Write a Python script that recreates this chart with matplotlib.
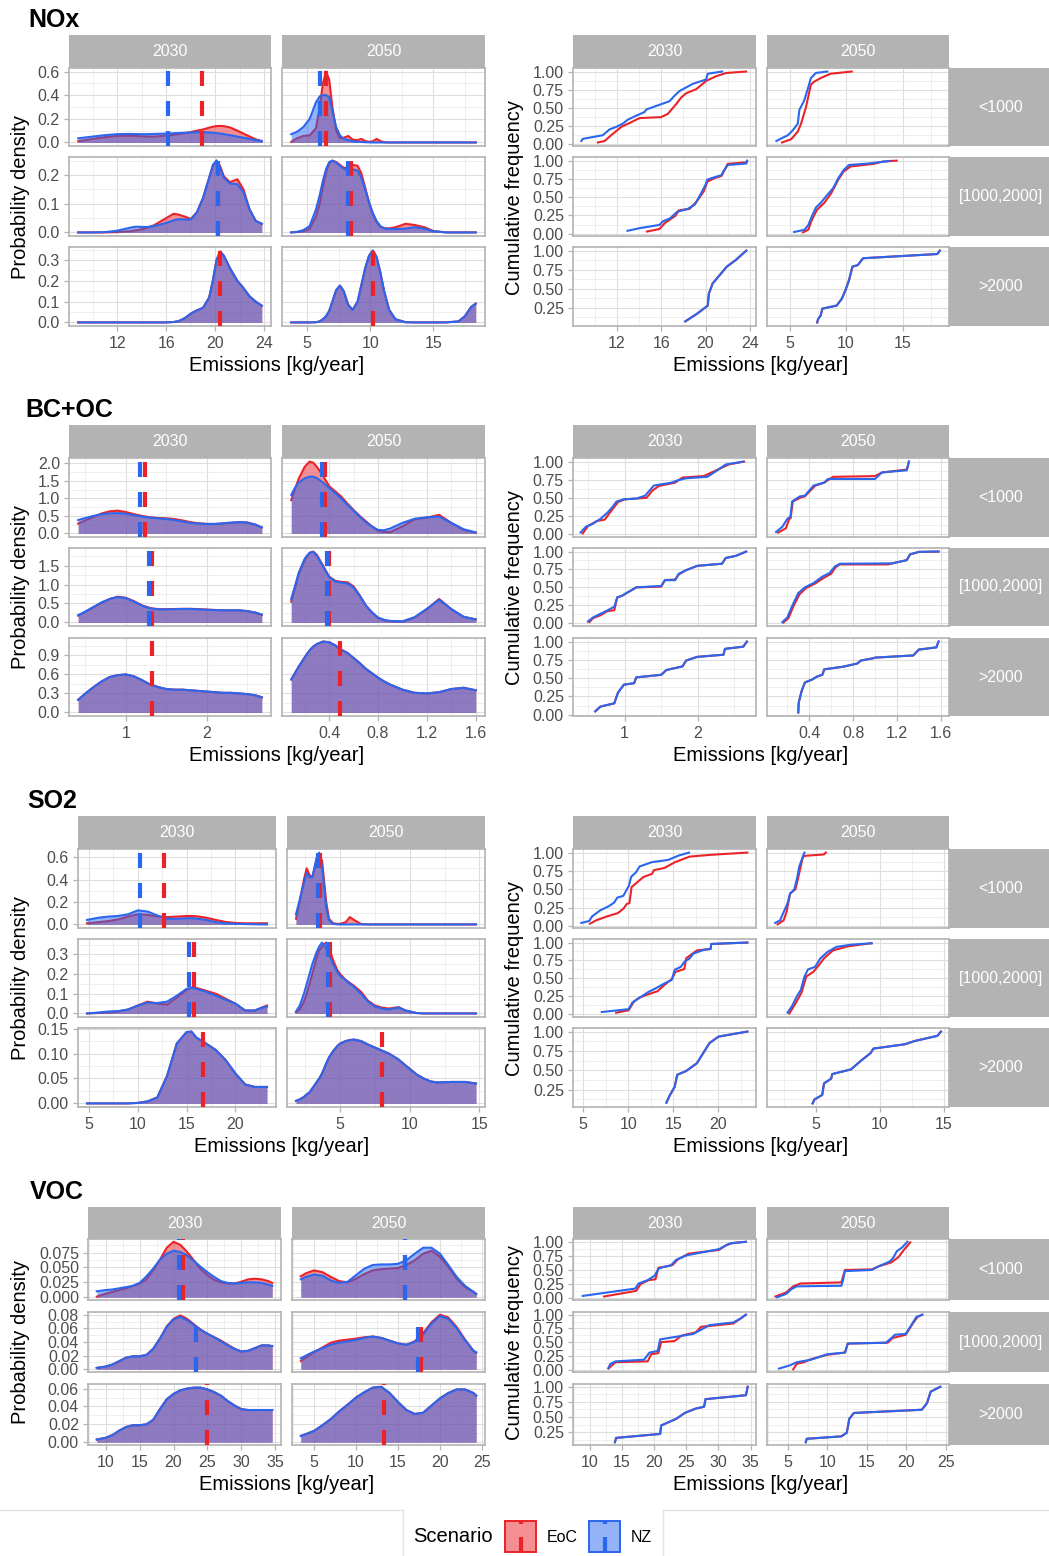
import matplotlib
matplotlib.use("Agg")
import matplotlib.pyplot as plt
from matplotlib.ticker import MultipleLocator, FormatStrFormatter, FuncFormatter
from matplotlib.patches import Rectangle

plt.rcParams['font.family'] = ['Liberation Sans', 'DejaVu Sans']

RED = '#EB2329'
BLUE = '#2A66EE'
GREY = '#B3B3B3'
ROW_LABELS = ['<1000', '[1000,2000]', '>2000']
YEARS = ['2030', '2050']

# ---------------- NOx ----------------
NOX_GRID_2030 = [8.8, 10, 11, 12, 13, 13.5, 14, 14.5, 15, 16, 16.6, 17, 17.5, 18, 18.5, 19, 19.5, 19.8,
                 20.1, 20.4, 20.7, 21.2, 21.8, 22.3, 22.8, 23.3, 23.8]
NOX_GRID_2050 = [3.74, 4.2, 4.7, 5.2, 5.7, 6.0, 6.25, 6.5, 6.75, 7.0, 7.3, 7.6, 7.9, 8.25, 8.6, 9.0, 9.3,
                 9.6, 9.9, 10.2, 10.5, 10.8, 11.1, 11.5, 12.0, 12.8, 13.5, 14.3, 15.0, 16.0, 17.0, 17.5,
                 18.0, 18.36]
NOX_DENS_EOC_2030 = [
    [0.01, 0.03, 0.045, 0.055, 0.057, 0.055, 0.052, 0.05, 0.05, 0.058, 0.065, 0.07, 0.078, 0.088, 0.1,
     0.11, 0.125, 0.133, 0.138, 0.14, 0.138, 0.127, 0.1, 0.075, 0.05, 0.027, 0.01],
    [0, 0, 0, 0.001, 0.004, 0.007, 0.011, 0.017, 0.025, 0.05, 0.065, 0.062, 0.055, 0.047, 0.07, 0.12,
     0.19, 0.23, 0.25, 0.23, 0.195, 0.175, 0.185, 0.15, 0.08, 0.04, 0.03],
    [0, 0, 0, 0, 0, 0, 0, 0, 0, 0, 0.002, 0.006, 0.02, 0.042, 0.058, 0.07, 0.12, 0.2, 0.3, 0.34, 0.32,
     0.26, 0.2, 0.165, 0.125, 0.1, 0.08],
]
NOX_DENS_NZ_2030 = [
    [0.035, 0.05, 0.062, 0.07, 0.072, 0.071, 0.07, 0.07, 0.072, 0.075, 0.078, 0.08, 0.082, 0.085, 0.086,
     0.086, 0.084, 0.082, 0.079, 0.075, 0.07, 0.062, 0.05, 0.04, 0.03, 0.02, 0.013],
    [0, 0, 0.001, 0.006, 0.016, 0.02, 0.019, 0.019, 0.022, 0.033, 0.042, 0.046, 0.045, 0.045, 0.07, 0.12,
     0.19, 0.235, 0.25, 0.225, 0.19, 0.17, 0.168, 0.14, 0.08, 0.04, 0.03],
    NOX_DENS_EOC_2030[2],
]
NOX_DENS_EOC_2050 = [
    [0.005, 0.035, 0.055, 0.06, 0.12, 0.3, 0.5, 0.6, 0.53, 0.3, 0.1, 0.035, 0.04, 0.055, 0.025, 0.02,
     0.03, 0.012, 0.005, 0.01, 0.03, 0.012, 0.002, 0, 0, 0, 0, 0, 0, 0, 0, 0, 0, 0],
    [0, 0.001, 0.004, 0.012, 0.055, 0.1, 0.16, 0.21, 0.24, 0.25, 0.245, 0.235, 0.225, 0.225, 0.235,
     0.232, 0.205, 0.155, 0.105, 0.065, 0.035, 0.02, 0.015, 0.014, 0.018, 0.03, 0.026, 0.018, 0.005, 0,
     0, 0, 0, 0],
    [0, 0, 0, 0, 0.001, 0.005, 0.015, 0.03, 0.055, 0.1, 0.155, 0.177, 0.15, 0.085, 0.06, 0.1, 0.18, 0.26,
     0.32, 0.345, 0.315, 0.24, 0.15, 0.06, 0.015, 0.001, 0, 0, 0, 0, 0.005, 0.03, 0.075, 0.09],
]
NOX_DENS_NZ_2050 = [
    [0.07, 0.09, 0.13, 0.2, 0.34, 0.39, 0.4, 0.4, 0.385, 0.27, 0.13, 0.06, 0.03, 0.02, 0.012, 0.006,
     0.004, 0.002, 0.001, 0, 0, 0, 0, 0, 0, 0, 0, 0, 0, 0, 0, 0, 0, 0],
    [0, 0.002, 0.008, 0.022, 0.08, 0.13, 0.18, 0.22, 0.245, 0.25, 0.243, 0.232, 0.222, 0.218, 0.22,
     0.215, 0.19, 0.15, 0.105, 0.068, 0.04, 0.022, 0.014, 0.012, 0.012, 0.013, 0.018, 0.013, 0.004, 0,
     0, 0, 0, 0],
    NOX_DENS_EOC_2050[2],
]
NOX_MED_EOC_2030 = [18.88, 20.25, 20.42]
NOX_MED_NZ_2030 = [16.16, 20.2, None]
NOX_MED_EOC_2050 = [6.47, 8.44, 10.22]
NOX_MED_NZ_2050 = [6.02, 8.2, None]
NOX_CDF_EOC_2030 = [
    [(10.29, 0.02), (10.9, 0.04), (11.34, 0.1), (12.4, 0.235), (13.3, 0.3), (14.05, 0.357), (16.0, 0.37),
     (16.6, 0.415), (17.35, 0.55), (17.8, 0.64), (18.25, 0.70), (19.15, 0.755), (20.05, 0.87),
     (20.95, 0.935), (21.86, 0.98), (23.66, 1.0)],
    [(14.72, 0.03), (15.84, 0.064), (16.32, 0.145), (17.28, 0.245), (17.6, 0.32), (18.56, 0.34),
     (19.2, 0.44), (19.84, 0.58), (20.16, 0.71), (20.8, 0.76), (21.44, 0.79), (22.0, 0.955),
     (23.68, 0.977), (23.74, 0.99)],
    [(18.18, 0.074), (19.2, 0.17), (19.84, 0.24), (20.2, 0.28), (20.3, 0.435), (20.64, 0.57),
     (21.28, 0.68), (21.92, 0.79), (22.72, 0.876), (23.68, 1.0)],
]
NOX_CDF_NZ_2030 = [
    [(8.8, 0.04), (8.94, 0.07), (10.74, 0.12), (11.34, 0.2), (11.95, 0.235), (12.54, 0.28), (12.99, 0.335),
     (13.75, 0.39), (14.5, 0.44), (14.65, 0.475), (16.75, 0.59), (17.2, 0.665), (17.65, 0.73),
     (18.85, 0.83), (20.05, 0.89), (20.2, 0.97), (21.5, 1.0)],
    [(12.96, 0.04), (14.08, 0.077), (15.84, 0.12), (16.16, 0.17), (16.8, 0.21), (17.44, 0.3), (18.4, 0.34),
     (19.04, 0.4), (19.52, 0.53), (20.0, 0.67), (20.16, 0.74), (20.96, 0.78), (21.44, 0.8), (21.6, 0.85),
     (22.0, 0.94), (23.68, 0.96), (23.74, 1.0)],
    NOX_CDF_EOC_2030[2],
]
NOX_CDF_EOC_2050 = [
    [(4.34, 0.02), (5.15, 0.065), (5.73, 0.17), (6.02, 0.28), (6.45, 0.506), (6.89, 0.82), (7.17, 0.86),
     (7.76, 0.91), (8.63, 0.97), (10.5, 1.0)],
    [(6.19, 0.018), (6.66, 0.055), (6.97, 0.19), (7.44, 0.33), (8.06, 0.42), (8.69, 0.555), (9.31, 0.74),
     (9.78, 0.85), (10.4, 0.92), (12.44, 0.955), (13.22, 0.986), (14.47, 1.0)],
    [(7.44, 0.06), (7.53, 0.105), (7.75, 0.15), (7.9, 0.24), (9.16, 0.28), (9.62, 0.37), (9.94, 0.48),
     (10.25, 0.61), (10.56, 0.79), (11.03, 0.81), (11.5, 0.9), (18.06, 0.955), (18.28, 1.0)],
]
NOX_CDF_NZ_2050 = [
    [(3.84, 0.04), (4.28, 0.077), (4.86, 0.12), (5.3, 0.19), (5.73, 0.28), (5.87, 0.47), (6.3, 0.6),
     (6.6, 0.755), (6.89, 0.91), (7.32, 0.98), (8.34, 1.0)],
    [(5.4, 0.023), (6.34, 0.055), (6.66, 0.12), (6.97, 0.236), (7.34, 0.36), (7.75, 0.42), (8.22, 0.51),
     (8.84, 0.62), (9.31, 0.76), (9.78, 0.87), (10.25, 0.94), (11.97, 0.96), (13.84, 0.995)],
    NOX_CDF_EOC_2050[2],
]

# ---------------- BC+OC ----------------
BC_GRID_2030 = [0.41, 0.5, 0.6, 0.7, 0.8, 0.9, 1.0, 1.1, 1.2, 1.3, 1.4, 1.5, 1.6, 1.7, 1.8, 1.9, 2.0,
                2.1, 2.2, 2.3, 2.4, 2.5, 2.6, 2.68]
BC_GRID_2050 = [0.09, 0.12, 0.15, 0.2, 0.24, 0.27, 0.3, 0.35, 0.4, 0.45, 0.5, 0.55, 0.6, 0.65, 0.7,
                0.75, 0.8, 0.85, 0.9, 1.0, 1.1, 1.2, 1.3, 1.4, 1.5, 1.6]
BC_DENS_EOC_2030 = [
    [0.28, 0.37, 0.47, 0.57, 0.63, 0.65, 0.61, 0.55, 0.5, 0.46, 0.44, 0.43, 0.41, 0.37, 0.32, 0.29, 0.27,
     0.27, 0.28, 0.3, 0.32, 0.31, 0.25, 0.17],
    [0.18, 0.28, 0.4, 0.52, 0.62, 0.68, 0.65, 0.56, 0.45, 0.38, 0.35, 0.35, 0.355, 0.36, 0.36, 0.35,
     0.34, 0.33, 0.32, 0.32, 0.32, 0.3, 0.26, 0.2],
    [0.2, 0.3, 0.4, 0.49, 0.56, 0.59, 0.6, 0.57, 0.51, 0.44, 0.4, 0.37, 0.36, 0.36, 0.35, 0.34, 0.33,
     0.32, 0.31, 0.31, 0.3, 0.29, 0.27, 0.24],
]
BC_DENS_NZ_2030 = [
    [0.38, 0.44, 0.5, 0.55, 0.57, 0.58, 0.56, 0.52, 0.48, 0.45, 0.43, 0.41, 0.38, 0.34, 0.3, 0.28, 0.27,
     0.27, 0.29, 0.31, 0.32, 0.31, 0.25, 0.17],
    [0.19, 0.29, 0.41, 0.53, 0.62, 0.67, 0.64, 0.55, 0.44, 0.37, 0.345, 0.345, 0.35, 0.355, 0.355, 0.345,
     0.335, 0.325, 0.32, 0.32, 0.32, 0.3, 0.26, 0.21],
    BC_DENS_EOC_2030[2],
]
BC_DENS_EOC_2050 = [
    [0.95, 1.25, 1.55, 1.9, 2.05, 2.02, 1.9, 1.65, 1.35, 1.2, 1.05, 0.85, 0.67, 0.5, 0.35, 0.2, 0.07,
     0.04, 0.04, 0.2, 0.4, 0.45, 0.53, 0.3, 0.1, 0.02],
    [0.55, 0.9, 1.25, 1.65, 1.83, 1.87, 1.78, 1.5, 1.21, 1.1, 1.07, 1.06, 0.95, 0.72, 0.45, 0.26, 0.12,
     0.06, 0.03, 0.02, 0.13, 0.35, 0.62, 0.35, 0.15, 0.08],
    [0.52, 0.62, 0.72, 0.87, 0.98, 1.04, 1.08, 1.12, 1.11, 1.06, 0.99, 0.94, 0.86, 0.78, 0.69, 0.62,
     0.55, 0.49, 0.44, 0.36, 0.31, 0.3, 0.32, 0.37, 0.39, 0.35],
]
BC_DENS_NZ_2050 = [
    [1.1, 1.3, 1.45, 1.57, 1.62, 1.62, 1.58, 1.45, 1.3, 1.15, 1.0, 0.82, 0.65, 0.48, 0.32, 0.2, 0.1,
     0.09, 0.14, 0.3, 0.42, 0.46, 0.48, 0.3, 0.12, 0.03],
    [0.62, 0.95, 1.3, 1.68, 1.84, 1.86, 1.76, 1.48, 1.2, 1.08, 1.05, 1.03, 0.92, 0.7, 0.45, 0.27, 0.13,
     0.07, 0.04, 0.03, 0.14, 0.36, 0.6, 0.35, 0.15, 0.08],
    BC_DENS_EOC_2050[2],
]
BC_MED_EOC_2030 = [1.24, 1.32, 1.32]
BC_MED_NZ_2030 = [1.17, 1.28, None]
BC_MED_EOC_2050 = [0.365, 0.395, 0.487]
BC_MED_NZ_2050 = [0.343, 0.38, None]
BC_CDF_EOC_2030 = [
    [(0.43, 0.01), (0.5, 0.11), (0.62, 0.18), (0.73, 0.2), (0.81, 0.31), (0.91, 0.44), (1.0, 0.48),
     (1.3, 0.5), (1.38, 0.6), (1.47, 0.665), (1.69, 0.71), (1.79, 0.78), (2.08, 0.8), (2.23, 0.87),
     (2.42, 0.96), (2.63, 1.0)],
    [(0.52, 0.015), (0.57, 0.07), (0.67, 0.11), (0.77, 0.17), (0.86, 0.18), (0.9, 0.36), (0.96, 0.38),
     (1.11, 0.47), (1.16, 0.5), (1.5, 0.51), (1.55, 0.6), (1.69, 0.61), (1.74, 0.68), (1.84, 0.74),
     (1.99, 0.8), (2.33, 0.83), (2.38, 0.91), (2.52, 0.94), (2.66, 1.0)],
    [(0.6, 0.045), (0.67, 0.11), (0.86, 0.155), (0.91, 0.3), (0.99, 0.41), (1.13, 0.43), (1.16, 0.51),
     (1.5, 0.545), (1.57, 0.61), (1.79, 0.66), (1.84, 0.74), (1.99, 0.79), (2.35, 0.82), (2.37, 0.9),
     (2.62, 0.93), (2.67, 1.0)],
]
BC_CDF_NZ_2030 = [
    [(0.4, 0.023), (0.47, 0.1), (0.57, 0.145), (0.67, 0.21), (0.77, 0.3), (0.84, 0.38), (0.89, 0.45),
     (0.99, 0.48), (1.16, 0.49), (1.28, 0.53), (1.4, 0.67), (1.64, 0.71), (1.72, 0.74), (1.84, 0.77),
     (2.13, 0.79), (2.28, 0.89), (2.38, 0.96), (2.62, 1.0)],
    [(0.5, 0.023), (0.57, 0.08), (0.67, 0.13), (0.77, 0.18), (0.86, 0.23), (0.9, 0.36), (0.96, 0.38),
     (1.11, 0.47), (1.16, 0.5), (1.5, 0.52), (1.55, 0.6), (1.69, 0.6), (1.74, 0.69), (1.84, 0.74),
     (1.99, 0.8), (2.33, 0.83), (2.38, 0.91), (2.52, 0.94), (2.66, 1.0)],
    BC_CDF_EOC_2030[2],
]
BC_CDF_EOC_2050 = [
    [(0.116, 0.02), (0.186, 0.08), (0.218, 0.21), (0.23, 0.22), (0.25, 0.45), (0.33, 0.51), (0.36, 0.52),
     (0.41, 0.6), (0.457, 0.67), (0.537, 0.71), (0.617, 0.79), (1.0, 0.8), (1.063, 0.85), (1.29, 0.89),
     (1.31, 1.0)],
    [(0.165, 0.01), (0.21, 0.07), (0.26, 0.25), (0.31, 0.4), (0.37, 0.49), (0.45, 0.55), (0.53, 0.63),
     (0.6, 0.69), (0.64, 0.78), (0.68, 0.82), (1.12, 0.82), (1.17, 0.84), (1.29, 0.88), (1.32, 0.96),
     (1.4, 0.995), (1.58, 1.0)],
    [(0.3, 0.03), (0.304, 0.165), (0.33, 0.32), (0.36, 0.44), (0.426, 0.48), (0.47, 0.52), (0.52, 0.545),
     (0.537, 0.62), (0.71, 0.656), (0.84, 0.7), (0.87, 0.74), (0.98, 0.77), (1.0, 0.78), (1.35, 0.81),
     (1.4, 0.89), (1.56, 0.92), (1.58, 1.0)],
]
BC_CDF_NZ_2050 = [
    [(0.097, 0.03), (0.154, 0.1), (0.2, 0.21), (0.228, 0.24), (0.244, 0.45), (0.314, 0.52), (0.36, 0.53),
     (0.4, 0.6), (0.44, 0.67), (0.537, 0.71), (0.57, 0.76), (1.0, 0.76), (1.063, 0.85), (1.29, 0.88),
     (1.31, 1.0)],
    [(0.154, 0.014), (0.2, 0.08), (0.25, 0.26), (0.3, 0.42), (0.36, 0.5), (0.44, 0.56), (0.52, 0.65),
     (0.585, 0.7), (0.633, 0.79), (0.68, 0.83), (1.16, 0.835), (1.29, 0.88), (1.32, 0.96), (1.4, 0.995),
     (1.58, 1.0)],
    BC_CDF_EOC_2050[2],
]

# ---------------- SO2 ----------------
SO2_GRID_2030 = [4.8, 6, 7, 8, 9, 10, 11, 12, 13, 14, 15, 15.5, 16, 17, 18, 19, 20, 21, 22, 22.8, 23.24]
SO2_GRID_2050 = [1.83, 2.1, 2.4, 2.6, 2.8, 3.0, 3.3, 3.5, 3.7, 4.0, 4.2, 4.5, 4.8, 5.0, 5.4, 5.7, 6.0,
                 6.5, 7.0, 7.5, 8.0, 8.5, 9.2, 9.7, 10.5, 11.0, 11.5, 12.0, 13.0, 14.0, 14.76]
SO2_DENS_EOC_2030 = [
    [0.01, 0.02, 0.03, 0.045, 0.07, 0.09, 0.085, 0.07, 0.065, 0.07, 0.075, 0.075, 0.073, 0.06, 0.04,
     0.022, 0.013, 0.01, 0.01, 0.01, 0.01],
    [0, 0.002, 0.005, 0.01, 0.02, 0.04, 0.06, 0.05, 0.045, 0.08, 0.12, 0.13, 0.13, 0.115, 0.1, 0.075,
     0.05, 0.015, 0.015, 0.032, 0.04],
    [0, 0, 0, 0, 0, 0.001, 0.004, 0.012, 0.055, 0.12, 0.143, 0.144, 0.132, 0.12, 0.107, 0.087, 0.06,
     0.038, 0.033, 0.033, 0.033],
]
SO2_DENS_NZ_2030 = [
    [0.04, 0.06, 0.07, 0.075, 0.09, 0.125, 0.115, 0.08, 0.05, 0.05, 0.055, 0.055, 0.052, 0.04, 0.02,
     0.01, 0.005, 0.003, 0.001, 0, 0],
    [0, 0.005, 0.01, 0.012, 0.02, 0.04, 0.055, 0.053, 0.06, 0.09, 0.125, 0.13, 0.125, 0.11, 0.09, 0.07,
     0.05, 0.015, 0.015, 0.03, 0.035],
    SO2_DENS_EOC_2030[2],
]
SO2_DENS_EOC_2050 = [
    [0.05, 0.21, 0.4, 0.5, 0.44, 0.42, 0.56, 0.6, 0.57, 0.2, 0.05, 0.01, 0.005, 0.005, 0.02, 0.065, 0.04,
     0.003, 0, 0, 0, 0, 0, 0, 0, 0, 0, 0, 0, 0, 0],
    [0.005, 0.02, 0.06, 0.1, 0.15, 0.2, 0.28, 0.32, 0.34, 0.36, 0.33, 0.27, 0.22, 0.2, 0.17, 0.155,
     0.14, 0.11, 0.065, 0.04, 0.03, 0.025, 0.032, 0.015, 0.002, 0, 0, 0, 0, 0, 0],
    [0.005, 0.008, 0.013, 0.018, 0.022, 0.03, 0.042, 0.05, 0.06, 0.08, 0.092, 0.105, 0.115, 0.12, 0.125,
     0.127, 0.128, 0.125, 0.118, 0.112, 0.106, 0.1, 0.088, 0.076, 0.058, 0.05, 0.044, 0.042, 0.043,
     0.043, 0.04],
]
SO2_DENS_NZ_2050 = [
    [0.09, 0.22, 0.37, 0.46, 0.42, 0.42, 0.59, 0.64, 0.52, 0.15, 0.04, 0.005, 0, 0, 0, 0, 0, 0, 0, 0, 0,
     0, 0, 0, 0, 0, 0, 0, 0, 0, 0],
    [0.01, 0.04, 0.1, 0.15, 0.2, 0.25, 0.31, 0.34, 0.36, 0.33, 0.3, 0.25, 0.21, 0.19, 0.17, 0.15, 0.135,
     0.1, 0.06, 0.035, 0.025, 0.02, 0.03, 0.015, 0.002, 0, 0, 0, 0, 0, 0],
    SO2_DENS_EOC_2050[2],
]
SO2_MED_EOC_2030 = [12.64, 15.8, 16.73]
SO2_MED_NZ_2030 = [10.18, 15.23, None]
SO2_MED_EOC_2050 = [3.52, 4.29, 8.02]
SO2_MED_NZ_2050 = [3.4, 4.14, None]
SO2_CDF_EOC_2030 = [
    [(5.76, 0.03), (6.47, 0.077), (7.67, 0.13), (8.86, 0.175), (9.46, 0.235), (9.85, 0.3), (10.13, 0.31),
     (10.37, 0.53), (11.05, 0.6), (11.65, 0.665), (12.64, 0.71), (12.84, 0.76), (14.0, 0.79), (15.2, 0.87),
     (16.8, 0.945), (19.2, 0.97), (23.2, 1.0)],
    [(8.66, 0.02), (10.05, 0.055), (10.65, 0.18), (11.25, 0.23), (12.04, 0.27), (13.24, 0.32),
     (14.03, 0.41), (14.83, 0.49), (15.23, 0.59), (16.22, 0.63), (16.42, 0.78), (17.61, 0.89),
     (19.13, 0.91), (19.2, 0.98), (23.2, 1.0)],
    [(14.23, 0.08), (14.63, 0.18), (15.15, 0.285), (15.43, 0.44), (16.42, 0.49), (17.61, 0.59),
     (18.41, 0.74), (19.0, 0.85), (20.0, 0.935), (23.2, 1.0)],
]
SO2_CDF_NZ_2030 = [
    [(4.8, 0.04), (5.68, 0.067), (6.0, 0.13), (6.87, 0.21), (7.87, 0.27), (8.46, 0.32), (8.78, 0.385),
     (9.46, 0.41), (9.85, 0.5), (10.05, 0.54), (10.33, 0.67), (10.85, 0.73), (11.25, 0.81), (12.64, 0.87),
     (14.43, 0.9), (15.6, 0.96), (16.74, 1.0)],
    [(7.07, 0.03), (10.05, 0.07), (10.45, 0.16), (11.25, 0.23), (12.24, 0.31), (13.04, 0.36), (14.03, 0.43),
     (14.83, 0.48), (15.15, 0.62), (15.82, 0.66), (16.22, 0.73), (16.82, 0.78), (17.21, 0.845),
     (18.41, 0.9), (19.13, 0.91), (19.2, 0.98), (23.2, 1.0)],
    SO2_CDF_EOC_2030[2],
]
SO2_CDF_EOC_2050 = [
    [(2.01, 0.02), (2.49, 0.077), (2.71, 0.19), (2.99, 0.44), (3.41, 0.5), (3.69, 0.71), (3.97, 0.93),
     (4.11, 0.955), (5.64, 0.975), (5.78, 1.0)],
    [(2.93, 0.01), (3.41, 0.15), (3.88, 0.3), (4.25, 0.525), (4.8, 0.59), (5.22, 0.68), (5.64, 0.78),
     (6.34, 0.89), (7.46, 0.945), (8.85, 0.98), (9.36, 0.99)],
    [(4.75, 0.07), (4.89, 0.12), (5.5, 0.18), (5.64, 0.33), (6.2, 0.39), (6.28, 0.45), (7.74, 0.51),
     (8.58, 0.63), (9.27, 0.72), (9.5, 0.78), (11.93, 0.835), (12.77, 0.88), (14.5, 0.945), (14.78, 1.0)],
]
SO2_CDF_NZ_2050 = [
    [(1.82, 0.04), (2.21, 0.077), (2.49, 0.19), (2.77, 0.3), (2.99, 0.44), (3.32, 0.5), (3.55, 0.665),
     (3.69, 0.8), (3.97, 0.94), (4.11, 1.0)],
    [(2.79, 0.023), (3.13, 0.11), (3.49, 0.24), (3.83, 0.34), (4.11, 0.525), (4.39, 0.625), (4.94, 0.66),
     (5.36, 0.78), (5.92, 0.87), (6.62, 0.94), (7.74, 0.97), (9.36, 0.99)],
    SO2_CDF_EOC_2050[2],
]

# ---------------- VOC ----------------
VOC_GRID_2030 = [8.68, 10, 11, 12, 13, 14, 15, 16, 17, 18, 19, 20, 21, 22, 23, 24, 25, 26, 27, 28, 29,
                 30, 31, 32, 33, 34, 34.56]
VOC_GRID_2050 = [3.41, 4, 5, 6, 7, 8, 9, 10, 11, 12, 13, 14, 15, 16, 17, 18, 19, 20, 21, 22, 23, 24,
                 24.33]
VOC_DENS_EOC_2030 = [
    [0.001, 0.006, 0.009, 0.012, 0.015, 0.019, 0.023, 0.03, 0.045, 0.063, 0.083, 0.093, 0.088, 0.076,
     0.062, 0.047, 0.037, 0.029, 0.025, 0.023, 0.023, 0.026, 0.03, 0.031, 0.03, 0.027, 0.024],
    [0.002, 0.004, 0.007, 0.012, 0.017, 0.019, 0.019, 0.021, 0.03, 0.045, 0.063, 0.074, 0.079, 0.074,
     0.066, 0.058, 0.052, 0.047, 0.042, 0.036, 0.03, 0.026, 0.027, 0.031, 0.035, 0.035, 0.034],
    [0.003, 0.005, 0.008, 0.013, 0.017, 0.019, 0.019, 0.02, 0.025, 0.037, 0.048, 0.054, 0.058, 0.06,
     0.061, 0.061, 0.059, 0.056, 0.052, 0.046, 0.041, 0.037, 0.036, 0.036, 0.036, 0.036, 0.036],
]
VOC_DENS_NZ_2030 = [
    [0.01, 0.012, 0.013, 0.015, 0.017, 0.019, 0.024, 0.035, 0.048, 0.063, 0.073, 0.078, 0.076, 0.07,
     0.061, 0.051, 0.042, 0.034, 0.027, 0.024, 0.023, 0.024, 0.025, 0.025, 0.024, 0.021, 0.019],
    [0.002, 0.004, 0.007, 0.012, 0.017, 0.019, 0.019, 0.021, 0.03, 0.045, 0.062, 0.073, 0.077, 0.072,
     0.065, 0.058, 0.052, 0.047, 0.041, 0.035, 0.03, 0.026, 0.027, 0.031, 0.035, 0.035, 0.034],
    VOC_DENS_EOC_2030[2],
]
VOC_DENS_EOC_2050 = [
    [0.035, 0.04, 0.045, 0.042, 0.034, 0.027, 0.025, 0.031, 0.039, 0.045, 0.047, 0.048, 0.049, 0.054,
     0.062, 0.073, 0.078, 0.068, 0.051, 0.031, 0.017, 0.009, 0.006],
    [0.012, 0.017, 0.025, 0.032, 0.039, 0.042, 0.0435, 0.045, 0.047, 0.048, 0.046, 0.042, 0.038, 0.036,
     0.041, 0.053, 0.069, 0.08, 0.076, 0.062, 0.0435, 0.027, 0.024],
    [0.007, 0.009, 0.0127, 0.019, 0.026, 0.0345, 0.042, 0.05, 0.056, 0.061, 0.062, 0.055, 0.045, 0.036,
     0.0316, 0.033, 0.041, 0.049, 0.055, 0.059, 0.059, 0.055, 0.052],
]
VOC_DENS_NZ_2050 = [
    [0.03, 0.034, 0.038, 0.036, 0.028, 0.024, 0.026, 0.037, 0.048, 0.054, 0.055, 0.055, 0.056, 0.062,
     0.073, 0.083, 0.083, 0.073, 0.054, 0.034, 0.019, 0.009, 0.005],
    [0.016, 0.02, 0.026, 0.031, 0.036, 0.039, 0.041, 0.043, 0.046, 0.048, 0.046, 0.042, 0.038, 0.036,
     0.04, 0.051, 0.067, 0.078, 0.074, 0.06, 0.0426, 0.027, 0.025],
    VOC_DENS_EOC_2050[2],
]
VOC_MED_EOC_2030 = [21.38, 23.28, 24.99]
VOC_MED_NZ_2030 = [20.84, 23.28, None]
VOC_MED_EOC_2050 = [15.79, 17.78, 13.33]
VOC_MED_NZ_2050 = [15.79, 17.38, None]
VOC_CDF_EOC_2030 = [
    [(12.22, 0.03), (17.22, 0.13), (17.9, 0.25), (19.17, 0.32), (20.22, 0.335), (20.67, 0.54),
     (21.78, 0.56), (22.9, 0.59), (23.72, 0.69), (25.4, 0.79), (30.1, 0.855), (31.2, 0.94), (32.3, 0.98),
     (34.28, 1.0)],
    [(12.9, 0.018), (14.0, 0.135), (19.0, 0.15), (19.56, 0.28), (20.67, 0.3), (21.1, 0.5), (23.17, 0.52),
     (24.3, 0.62), (26.5, 0.68), (27.3, 0.78), (32.33, 0.84), (33.44, 0.93), (34.28, 1.0)],
    [(13.9, 0.083), (14.1, 0.155), (20.94, 0.22), (21.1, 0.36), (23.44, 0.47), (24.83, 0.57), (26.5, 0.64),
     (27.78, 0.67), (28.0, 0.795), (34.28, 0.86), (34.56, 1.0)],
]
VOC_CDF_NZ_2030 = [
    [(8.9, 0.04), (17.06, 0.17), (17.6, 0.26), (19.0, 0.32), (20.1, 0.4), (20.67, 0.52), (21.5, 0.555),
     (22.6, 0.58), (23.44, 0.68), (25.1, 0.76), (30.1, 0.87), (31.78, 0.97), (34.28, 1.0)],
    [(12.9, 0.03), (13.2, 0.105), (14.0, 0.15), (18.44, 0.18), (19.28, 0.31), (20.56, 0.34), (20.94, 0.55),
     (26.1, 0.65), (27.2, 0.72), (28.6, 0.81), (32.33, 0.86), (33.44, 0.93), (34.28, 1.0)],
    VOC_CDF_EOC_2030[2],
]
VOC_CDF_EOC_2050 = [
    [(3.42, 0.03), (4.77, 0.1), (5.68, 0.21), (6.58, 0.26), (11.77, 0.28), (12.22, 0.5), (15.6, 0.51),
     (16.5, 0.566), (18.1, 0.635), (19.0, 0.73), (19.67, 0.855), (20.48, 0.99)],
    [(5.68, 0.006), (6.13, 0.105), (7.03, 0.135), (7.93, 0.19), (9.97, 0.27), (12.22, 0.31), (12.58, 0.475),
     (17.64, 0.49), (18.23, 0.575), (19.9, 0.635), (20.8, 0.84), (21.4, 0.96), (22.0, 1.0)],
    [(7.26, 0.083), (7.39, 0.14), (11.77, 0.18), (12.45, 0.24), (12.77, 0.47), (13.35, 0.567),
     (21.93, 0.62), (22.6, 0.73), (23.06, 0.92), (24.28, 1.0)],
]
VOC_CDF_NZ_2050 = [
    [(3.65, 0.017), (4.77, 0.075), (5.45, 0.16), (6.13, 0.21), (11.77, 0.22), (12.0, 0.335), (12.22, 0.48),
     (15.6, 0.5), (16.5, 0.566), (17.87, 0.65), (18.3, 0.71), (18.77, 0.83), (19.45, 0.9), (20.12, 1.0)],
    [(3.87, 0.018), (5.23, 0.076), (6.13, 0.135), (7.93, 0.18), (9.97, 0.28), (12.22, 0.31),
     (12.58, 0.475), (17.4, 0.49), (18.1, 0.575), (18.54, 0.635), (19.9, 0.65), (20.48, 0.78),
     (21.25, 0.96), (22.0, 1.0)],
    VOC_CDF_EOC_2050[2],
]

# blocks: data + page layout (pixel boxes on a 1049 x 1556 canvas)
BLOCKS = [
    dict(name='NOx', grids=(NOX_GRID_2030, NOX_GRID_2050),
         d_eoc=(NOX_DENS_EOC_2030, NOX_DENS_EOC_2050), d_nz=(NOX_DENS_NZ_2030, NOX_DENS_NZ_2050),
         m_eoc=(NOX_MED_EOC_2030, NOX_MED_EOC_2050), m_nz=(NOX_MED_NZ_2030, NOX_MED_NZ_2050),
         c_eoc=(NOX_CDF_EOC_2030, NOX_CDF_EOC_2050), c_nz=(NOX_CDF_NZ_2030, NOX_CDF_NZ_2050),
         xstep=(4, 5), ystep=(0.2, 0.1, 0.1), ydec=(1, 1, 1),
         title=(28, 20), strip=(35, 68), rows=[(68, 146), (157, 236), (247, 326)],
         left=[(69, 271), (282, 485)]),
    dict(name='BC+OC', grids=(BC_GRID_2030, BC_GRID_2050),
         d_eoc=(BC_DENS_EOC_2030, BC_DENS_EOC_2050), d_nz=(BC_DENS_NZ_2030, BC_DENS_NZ_2050),
         m_eoc=(BC_MED_EOC_2030, BC_MED_EOC_2050), m_nz=(BC_MED_NZ_2030, BC_MED_NZ_2050),
         c_eoc=(BC_CDF_EOC_2030, BC_CDF_EOC_2050), c_nz=(BC_CDF_NZ_2030, BC_CDF_NZ_2050),
         xstep=(1, 0.4), ystep=(0.5, 0.5, 0.3), ydec=(1, 1, 1),
         title=(25, 410), strip=(425, 458), rows=[(458, 537), (548, 626), (638, 716)],
         left=[(69, 271), (282, 485)]),
    dict(name='SO2', grids=(SO2_GRID_2030, SO2_GRID_2050),
         d_eoc=(SO2_DENS_EOC_2030, SO2_DENS_EOC_2050), d_nz=(SO2_DENS_NZ_2030, SO2_DENS_NZ_2050),
         m_eoc=(SO2_MED_EOC_2030, SO2_MED_EOC_2050), m_nz=(SO2_MED_NZ_2030, SO2_MED_NZ_2050),
         c_eoc=(SO2_CDF_EOC_2030, SO2_CDF_EOC_2050), c_nz=(SO2_CDF_NZ_2030, SO2_CDF_NZ_2050),
         xstep=(5, 5), ystep=(0.2, 0.1, 0.05), ydec=(1, 1, 2),
         title=(27, 801), strip=(816, 849), rows=[(849, 928), (939, 1017), (1028, 1107)],
         left=[(78, 276), (287, 485)]),
    dict(name='VOC', grids=(VOC_GRID_2030, VOC_GRID_2050),
         d_eoc=(VOC_DENS_EOC_2030, VOC_DENS_EOC_2050), d_nz=(VOC_DENS_NZ_2030, VOC_DENS_NZ_2050),
         m_eoc=(VOC_MED_EOC_2030, VOC_MED_EOC_2050), m_nz=(VOC_MED_NZ_2030, VOC_MED_NZ_2050),
         c_eoc=(VOC_CDF_EOC_2030, VOC_CDF_EOC_2050), c_nz=(VOC_CDF_NZ_2030, VOC_CDF_NZ_2050),
         xstep=(5, 5), ystep=(0.025, 0.02, 0.02), ydec=(3, 2, 2),
         title=(30, 1192), strip=(1207, 1239), rows=[(1239, 1300), (1312, 1372), (1384, 1445)],
         left=[(88, 281), (292, 485)]),
]
RIGHT = [(573, 756), (767, 949)]
RSTRIP = (949, 1054)

W, H = 1049, 1556
fig = plt.figure(figsize=(W / 100, H / 100), dpi=100)


def box(x0, y0, x1, y1):
    return [x0 / W, 1 - y1 / H, (x1 - x0) / W, (y1 - y0) / H]


# overlay in pixel coordinates for titles, labels and legend
ov = fig.add_axes([0, 0, 1, 1])
ov.set_xlim(0, W)
ov.set_ylim(H, 0)
ov.axis('off')


def style(ax, xstep, ystep, ydec, show_x, show_y):
    ax.xaxis.set_major_locator(MultipleLocator(xstep))
    ax.xaxis.set_minor_locator(MultipleLocator(xstep / 2))
    ax.yaxis.set_major_locator(MultipleLocator(ystep))
    ax.yaxis.set_minor_locator(MultipleLocator(ystep / 2))
    ax.xaxis.set_major_formatter(FuncFormatter(lambda v, p: f"{round(v, 6):g}"))
    ax.yaxis.set_major_formatter(FormatStrFormatter(f"%.{ydec}f"))
    ax.set_axisbelow(True)
    ax.grid(which='major', color='#DEDEDE', lw=0.8)
    ax.grid(which='minor', color='#E9E9E9', lw=0.5)
    for s in ax.spines.values():
        s.set_color(GREY)
        s.set_linewidth(1.2)
    ax.tick_params(which='minor', length=0)
    ax.tick_params(which='major', length=3.5, width=0.9, color=GREY, labelcolor='#4D4D4D',
                   labelsize=11.5)
    ax.tick_params(axis='x', bottom=show_x, labelbottom=show_x, pad=4)
    ax.tick_params(axis='y', left=show_y, labelleft=show_y, pad=3)


def strip(x0, y0, x1, y1, label, rot=0):
    s = fig.add_axes(box(x0, y0, x1, y1))
    s.set_facecolor(GREY)
    s.set_xticks([])
    s.set_yticks([])
    for sp in s.spines.values():
        sp.set_visible(False)
    s.text(0.5 if rot == 0 else (1001 - x0) / (x1 - x0), 0.5, label, transform=s.transAxes,
           ha='center', va='center', color='white', fontsize=11.5)


for b in BLOCKS:
    rows = b['rows']
    # titles and strips
    ov.text(b['title'][0], b['title'][1], b['name'], fontsize=18, fontweight='bold', ha='left', va='center')
    for c in range(2):
        strip(b['left'][c][0], b['strip'][0], b['left'][c][1], b['strip'][1], YEARS[c])
        strip(RIGHT[c][0], b['strip'][0], RIGHT[c][1], b['strip'][1], YEARS[c])
    for r in range(3):
        strip(RSTRIP[0], rows[r][0], RSTRIP[1], rows[r][1], ROW_LABELS[r], rot=1)
        dmax = max(max(b['d_eoc'][c][r] + b['d_nz'][c][r]) for c in range(2))
        cmin = min(min(p[1] for p in b['c_eoc'][c][r] + b['c_nz'][c][r]) for c in range(2))
        cmax = max(max(p[1] for p in b['c_eoc'][c][r] + b['c_nz'][c][r]) for c in range(2))
        for c in range(2):
            grid = b['grids'][c]
            lo, hi = grid[0], grid[-1]
            pad = 0.05 * (hi - lo)
            # density panel
            ax = fig.add_axes(box(b['left'][c][0], rows[r][0], b['left'][c][1], rows[r][1]))
            for ys, col in ((b['d_eoc'][c][r], RED), (b['d_nz'][c][r], BLUE)):
                ax.fill_between(grid, ys, color=col, alpha=0.5, lw=0, zorder=2)
                ax.plot(grid, ys, color=col, lw=1.5, zorder=2)
            for m, col in ((b['m_eoc'][c][r], RED), (b['m_nz'][c][r], BLUE)):
                if m is not None:
                    ax.axvline(m, color=col, lw=3, dashes=(3.6, 3.6), zorder=3)
            ax.set_xlim(lo - pad, hi + pad)
            ax.set_ylim(-0.05 * dmax, 1.05 * dmax)
            style(ax, b['xstep'][c], b['ystep'][r], b['ydec'][r], r == 2, c == 0)
            # cumulative panel
            ax2 = fig.add_axes(box(RIGHT[c][0], rows[r][0], RIGHT[c][1], rows[r][1]))
            for pts, col in ((b['c_eoc'][c][r], RED), (b['c_nz'][c][r], BLUE)):
                ax2.plot([p[0] for p in pts], [p[1] for p in pts], color=col, lw=1.5, zorder=2)
            ax2.set_xlim(lo - pad, hi + pad)
            cp = 0.05 * (cmax - cmin)
            ax2.set_ylim(cmin - cp, cmax + cp)
            style(ax2, b['xstep'][c], 0.25, 2, r == 2, c == 0)
    # axis titles
    bottom = rows[2][1]
    mid = (rows[0][0] + rows[2][1]) / 2
    ov.text((b['left'][0][0] + b['left'][1][1]) / 2, bottom + 39, 'Emissions [kg/year]', fontsize=14.5,
            ha='center', va='center')
    ov.text((RIGHT[0][0] + RIGHT[1][1]) / 2, bottom + 39, 'Emissions [kg/year]', fontsize=14.5,
            ha='center', va='center')
    ov.text(21, mid, 'Probability density', fontsize=14.5, rotation=90, ha='center', va='center')
    ov.text(515, mid, 'Cumulative frequency', fontsize=14.5, rotation=90, ha='center', va='center')

# legend
LC = '#E3E3E3'
ov.plot([0, 403], [1510, 1510], color=LC, lw=1)
ov.plot([403, 403], [1510, 1556], color=LC, lw=1)
ov.plot([663, 663], [1510, 1556], color=LC, lw=1)
ov.plot([663, 1049], [1510, 1510], color=LC, lw=1)
ov.text(413, 1537, 'Scenario', fontsize=14.5, ha='left', va='center')
for x0, col, lab in ((505, RED, 'EoC'), (589, BLUE, 'NZ')):
    ov.add_patch(Rectangle((x0, 1521), 31, 31, facecolor=matplotlib.colors.to_rgba(col, 0.5),
                           edgecolor=col, lw=1.4))
    ov.plot([x0 + 15.5, x0 + 15.5], [1521, 1524], color=col, lw=3, solid_capstyle='butt')
    ov.plot([x0 + 15.5, x0 + 15.5], [1537, 1552], color=col, lw=3, solid_capstyle='butt')
    ov.text(x0 + 42, 1537, lab, fontsize=11.5, ha='left', va='center')

fig.savefig('out.png', dpi=100)
